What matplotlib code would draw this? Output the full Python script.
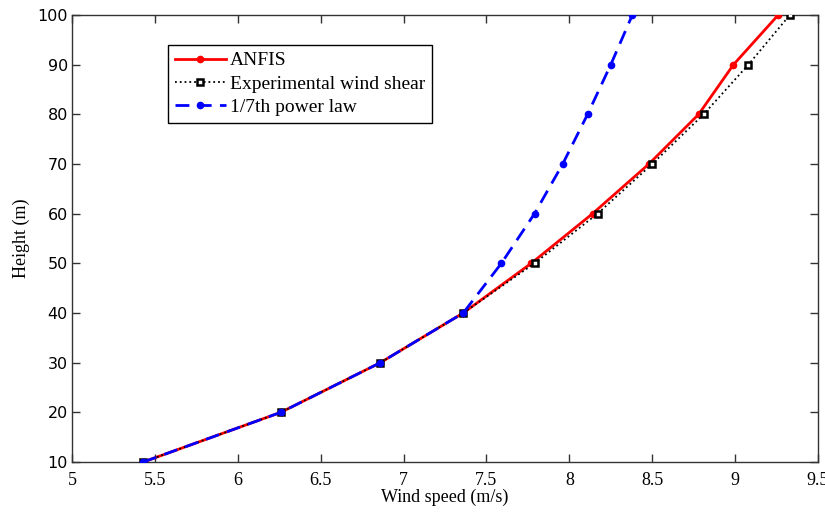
import matplotlib.pyplot as plt

# wind speed (m/s) at each height (m)
height = [10, 20, 30, 40, 50, 60, 70, 80, 90, 100]
anfis = [5.43, 6.26, 6.86, 7.36, 7.77, 8.14, 8.48, 8.78, 8.99, 9.26]
experimental = [5.43, 6.26, 6.86, 7.36, 7.79, 8.17, 8.50, 8.81, 9.08, 9.33]
power_law = [5.43, 6.26, 6.86, 7.36, 7.59, 7.79, 7.96, 8.11, 8.25, 8.38]

x_ticks = [5, 5.5, 6, 6.5, 7, 7.5, 8, 8.5, 9, 9.5]
y_ticks = [10, 20, 30, 40, 50, 60, 70, 80, 90, 100]

serif = "Liberation Serif"

fig = plt.figure(figsize=(8.25, 5.14), dpi=100)
ax = fig.add_axes([0.0873, 0.1012, 0.9042, 0.8696])

ax.plot(anfis, height, color="red", lw=2, marker="o", ms=4.5,
        label="ANFIS", zorder=3)
ax.plot(experimental, height, color="black", lw=1.3, ls=":", marker="s",
        ms=4.5, mfc="white", mec="black", mew=1.8,
        label="Experimental wind shear", zorder=4)
ax.plot(power_law, height, color="blue", lw=2, ls=(0, (5, 3)), marker="o",
        ms=4.5, label="1/7th power law", zorder=5)

ax.set_xlim(5, 9.5)
ax.set_ylim(10, 100)
ax.set_xticks(x_ticks)
ax.set_xticklabels([f"{v:g}" for v in x_ticks], family=serif, fontsize=13)
ax.set_yticks(y_ticks)
ax.set_yticklabels([str(v) for v in y_ticks], family="DejaVu Sans", fontsize=11.5)
ax.tick_params(direction="in", top=True, right=True, length=6, width=1,
               color="#333333")
ax.tick_params(axis="x", pad=7)
ax.tick_params(axis="y", pad=3)
for s in ax.spines.values():
    s.set_color("#333333")
    s.set_linewidth(1)

ax.set_xlabel("Wind speed (m/s)", family=serif, fontsize=13, labelpad=0)
ax.set_ylabel("Height (m)", family=serif, fontsize=13, labelpad=5)

leg = ax.legend(loc="upper left", bbox_to_anchor=(0.129, 0.933),
                prop={"family": serif, "size": 14}, fancybox=False,
                framealpha=1, edgecolor="black", handlelength=2.6,
                handletextpad=0.2, borderpad=0.35, borderaxespad=0,
                labelspacing=0.3)
leg.get_frame().set_linewidth(1)

fig.savefig("out.png", dpi=100)
